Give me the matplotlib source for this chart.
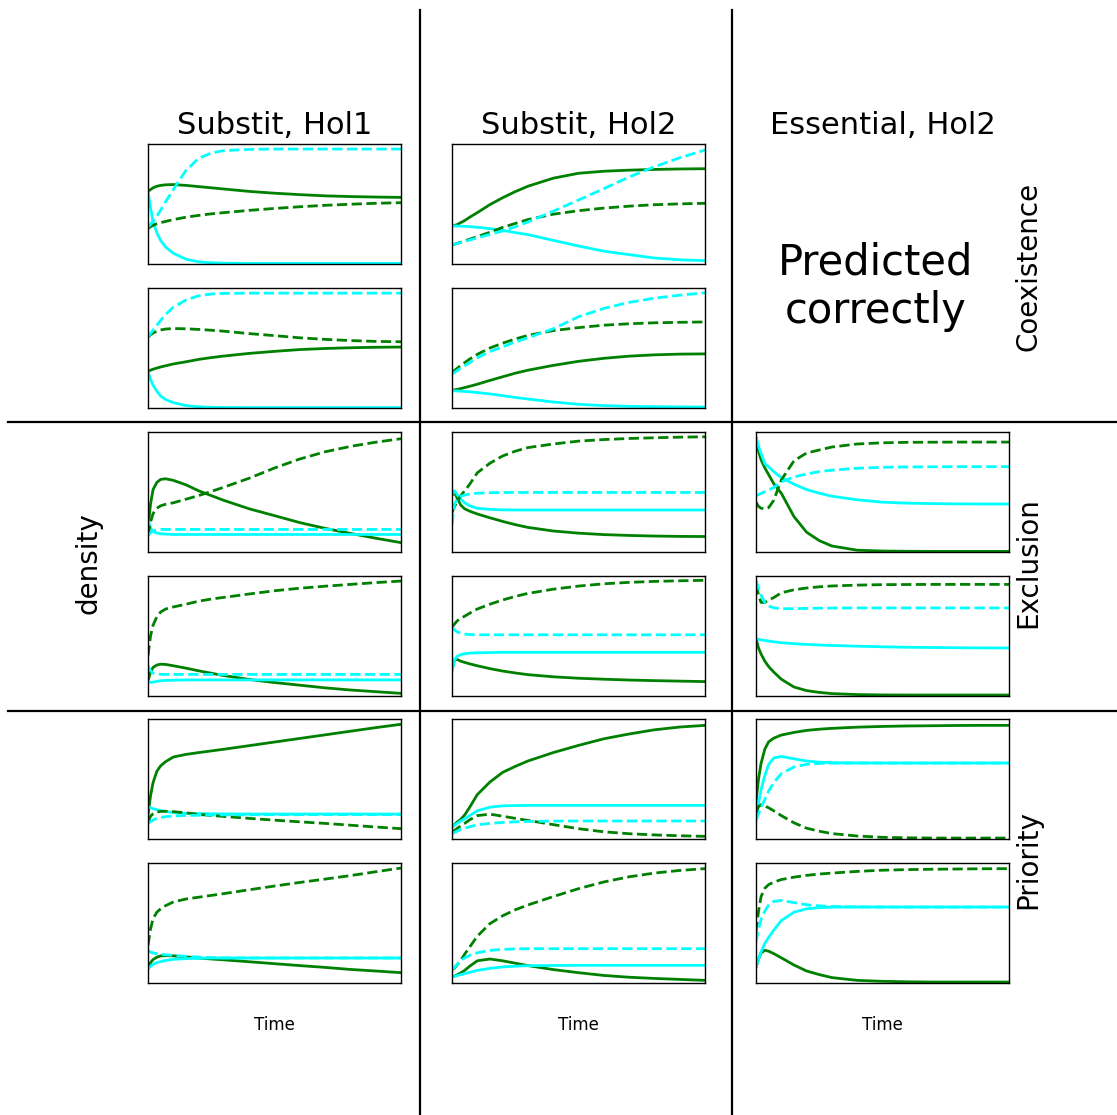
import matplotlib
matplotlib.use("Agg")
import matplotlib.pyplot as plt
from matplotlib.lines import Line2D

# shared time grid (fraction of the simulated time span)
time = [0, .01, .02, .035, .05, .07, .1, .15, .2, .25, .3, .4, .5, .6, .7, .8, .9, 1.0]

col_titles = ["Substit, Hol1", "Substit, Hol2", "Essential, Hol2"]
row_labels = ["Coexistence", "Exclusion", "Priority"]

# ---- column 1: Substit, Hol1 ----
r1c1_gs = [0.603, 0.62, 0.635, 0.648, 0.655, 0.66, 0.662, 0.655, 0.645, 0.635, 0.625, 0.605, 0.59, 0.578, 0.568, 0.562, 0.558, 0.555]
r1c1_gd = [0.297, 0.31, 0.322, 0.335, 0.345, 0.355, 0.37, 0.39, 0.405, 0.418, 0.428, 0.447, 0.463, 0.477, 0.489, 0.498, 0.506, 0.511]
r1c1_cs = [0.603, 0.47, 0.35, 0.26, 0.195, 0.14, 0.09, 0.04, 0.018, 0.01, 0.007, 0.005, 0.005, 0.005, 0.005, 0.005, 0.005, 0.005]
r1c1_cd = [0.306, 0.33, 0.36, 0.40, 0.45, 0.52, 0.62, 0.78, 0.88, 0.925, 0.945, 0.955, 0.958, 0.958, 0.958, 0.958, 0.958, 0.958]

r2c1_gs = [0.305, 0.315, 0.323, 0.333, 0.342, 0.352, 0.367, 0.385, 0.405, 0.42, 0.433, 0.455, 0.472, 0.487, 0.496, 0.502, 0.506, 0.508]
r2c1_gd = [0.59, 0.61, 0.625, 0.64, 0.65, 0.658, 0.662, 0.66, 0.655, 0.648, 0.64, 0.62, 0.603, 0.585, 0.572, 0.562, 0.555, 0.552]
r2c1_cs = [0.305, 0.24, 0.19, 0.14, 0.1, 0.07, 0.045, 0.02, 0.01, 0.006, 0.004, 0.003, 0.003, 0.003, 0.003, 0.003, 0.003, 0.003]
r2c1_cd = [0.59, 0.62, 0.65, 0.69, 0.73, 0.78, 0.84, 0.9, 0.935, 0.95, 0.955, 0.957, 0.957, 0.957, 0.957, 0.957, 0.957, 0.957]

r3c1_gs = [0.2, 0.4, 0.52, 0.58, 0.605, 0.61, 0.597, 0.56, 0.51, 0.47, 0.43, 0.36, 0.303, 0.245, 0.197, 0.155, 0.115, 0.078]
r3c1_gd = [0.135, 0.25, 0.32, 0.365, 0.385, 0.398, 0.41, 0.44, 0.47, 0.505, 0.54, 0.615, 0.7, 0.775, 0.835, 0.88, 0.915, 0.944]
r3c1_cs = [0.27, 0.2, 0.17, 0.158, 0.152, 0.149, 0.146, 0.146, 0.146, 0.146, 0.146, 0.146, 0.146, 0.146, 0.146, 0.146, 0.146, 0.146]
r3c1_cd = [0.135, 0.16, 0.176, 0.185, 0.188, 0.188, 0.188, 0.188, 0.188, 0.188, 0.188, 0.188, 0.188, 0.188, 0.188, 0.188, 0.188, 0.188]

r4c1_gs = [0.126, 0.2, 0.238, 0.258, 0.265, 0.263, 0.252, 0.232, 0.21, 0.19, 0.17, 0.138, 0.112, 0.09, 0.068, 0.05, 0.036, 0.022]
r4c1_gd = [0.336, 0.5, 0.59, 0.66, 0.7, 0.725, 0.742, 0.765, 0.79, 0.808, 0.822, 0.85, 0.877, 0.898, 0.915, 0.93, 0.945, 0.958]
r4c1_cs = [0.126, 0.113, 0.115, 0.122, 0.127, 0.13, 0.132, 0.134, 0.134, 0.134, 0.134, 0.134, 0.134, 0.134, 0.134, 0.134, 0.134, 0.134]
r4c1_cd = [0.25, 0.21, 0.19, 0.183, 0.18, 0.18, 0.18, 0.18, 0.18, 0.18, 0.18, 0.18, 0.18, 0.18, 0.18, 0.18, 0.18, 0.18]

r5c1_gs = [0.2, 0.36, 0.47, 0.565, 0.61, 0.645, 0.683, 0.705, 0.72, 0.734, 0.748, 0.778, 0.808, 0.838, 0.868, 0.898, 0.928, 0.956]
r5c1_gd = [0.14, 0.19, 0.21, 0.225, 0.23, 0.231, 0.228, 0.218, 0.205, 0.196, 0.188, 0.172, 0.157, 0.143, 0.13, 0.115, 0.1, 0.086]
r5c1_cs = [0.267, 0.26, 0.253, 0.244, 0.237, 0.229, 0.22, 0.214, 0.211, 0.21, 0.209, 0.208, 0.208, 0.208, 0.208, 0.208, 0.208, 0.208]
r5c1_cd = [0.128, 0.145, 0.158, 0.172, 0.18, 0.186, 0.192, 0.196, 0.198, 0.2, 0.201, 0.202, 0.203, 0.203, 0.203, 0.203, 0.203, 0.203]

r6c1_gs = [0.119, 0.17, 0.195, 0.215, 0.226, 0.228, 0.226, 0.218, 0.208, 0.2, 0.193, 0.177, 0.161, 0.145, 0.13, 0.113, 0.1, 0.086]
r6c1_gd = [0.314, 0.45, 0.536, 0.59, 0.618, 0.645, 0.675, 0.7, 0.715, 0.73, 0.745, 0.777, 0.808, 0.838, 0.866, 0.895, 0.927, 0.958]
r6c1_cs = [0.119, 0.14, 0.155, 0.17, 0.178, 0.188, 0.197, 0.203, 0.206, 0.208, 0.208, 0.208, 0.208, 0.208, 0.208, 0.208, 0.208, 0.208]
r6c1_cd = [0.272, 0.258, 0.25, 0.244, 0.24, 0.235, 0.23, 0.222, 0.216, 0.212, 0.21, 0.209, 0.209, 0.209, 0.209, 0.209, 0.209, 0.209]

# ---- column 2: Substit, Hol2 ----
r1c2_gs = [0.317, 0.322, 0.328, 0.345, 0.362, 0.39, 0.428, 0.495, 0.552, 0.603, 0.648, 0.715, 0.756, 0.773, 0.782, 0.788, 0.792, 0.794]
r1c2_gd = [0.158, 0.165, 0.172, 0.182, 0.193, 0.207, 0.228, 0.265, 0.305, 0.338, 0.37, 0.415, 0.444, 0.466, 0.482, 0.494, 0.501, 0.506]
r1c2_cs = [0.317, 0.317, 0.316, 0.315, 0.314, 0.312, 0.306, 0.295, 0.28, 0.262, 0.245, 0.197, 0.15, 0.107, 0.078, 0.05, 0.035, 0.028]
r1c2_cd = [0.158, 0.164, 0.17, 0.179, 0.188, 0.2, 0.218, 0.247, 0.275, 0.31, 0.35, 0.44, 0.533, 0.628, 0.725, 0.81, 0.885, 0.95]

r2c2_gs = [0.148, 0.151, 0.155, 0.162, 0.17, 0.181, 0.198, 0.23, 0.26, 0.29, 0.315, 0.355, 0.389, 0.414, 0.432, 0.443, 0.449, 0.451]
r2c2_gd = [0.297, 0.313, 0.33, 0.355, 0.378, 0.408, 0.447, 0.5, 0.54, 0.575, 0.605, 0.645, 0.67, 0.69, 0.702, 0.71, 0.714, 0.717]
r2c2_cs = [0.143, 0.143, 0.142, 0.14, 0.138, 0.135, 0.129, 0.117, 0.103, 0.088, 0.075, 0.05, 0.031, 0.02, 0.014, 0.011, 0.009, 0.008]
r2c2_cd = [0.283, 0.297, 0.311, 0.332, 0.352, 0.378, 0.418, 0.47, 0.51, 0.55, 0.585, 0.66, 0.76, 0.83, 0.88, 0.915, 0.94, 0.96]

r3c2_gs = [0.47, 0.5, 0.45, 0.39, 0.36, 0.34, 0.317, 0.285, 0.255, 0.228, 0.205, 0.175, 0.157, 0.145, 0.138, 0.133, 0.13, 0.129]
r3c2_gd = [0.325, 0.38, 0.42, 0.47, 0.51, 0.565, 0.66, 0.74, 0.8, 0.84, 0.87, 0.9, 0.924, 0.937, 0.946, 0.952, 0.957, 0.96]
r3c2_cs = [0.48, 0.51, 0.48, 0.44, 0.41, 0.385, 0.364, 0.355, 0.351, 0.35, 0.35, 0.35, 0.35, 0.35, 0.35, 0.35, 0.35, 0.35]
r3c2_cd = [0.232, 0.4, 0.44, 0.465, 0.475, 0.483, 0.49, 0.494, 0.496, 0.496, 0.496, 0.496, 0.496, 0.496, 0.496, 0.496, 0.496, 0.496]

r4c2_gs = [0.22, 0.3, 0.305, 0.29, 0.28, 0.268, 0.252, 0.228, 0.208, 0.192, 0.178, 0.16, 0.148, 0.14, 0.133, 0.128, 0.124, 0.12]
r4c2_gd = [0.574, 0.6, 0.625, 0.648, 0.665, 0.69, 0.725, 0.765, 0.8, 0.83, 0.855, 0.89, 0.916, 0.935, 0.947, 0.955, 0.96, 0.964]
r4c2_cs = [0.21, 0.3, 0.33, 0.345, 0.352, 0.357, 0.36, 0.362, 0.364, 0.364, 0.364, 0.364, 0.364, 0.364, 0.364, 0.364, 0.364, 0.364]
r4c2_cd = [0.574, 0.55, 0.535, 0.522, 0.516, 0.512, 0.51, 0.51, 0.51, 0.51, 0.51, 0.51, 0.51, 0.51, 0.51, 0.51, 0.51, 0.51]

r5c2_gs = [0.1, 0.12, 0.14, 0.165, 0.2, 0.265, 0.37, 0.475, 0.555, 0.605, 0.65, 0.72, 0.78, 0.835, 0.875, 0.91, 0.933, 0.947]
r5c2_gd = [0.058, 0.072, 0.088, 0.11, 0.13, 0.16, 0.195, 0.207, 0.19, 0.172, 0.155, 0.12, 0.086, 0.06, 0.044, 0.034, 0.027, 0.022]
r5c2_cs = [0.1, 0.115, 0.13, 0.15, 0.168, 0.195, 0.235, 0.265, 0.276, 0.279, 0.28, 0.28, 0.28, 0.28, 0.28, 0.28, 0.28, 0.28]
r5c2_cd = [0.044, 0.055, 0.066, 0.08, 0.09, 0.102, 0.118, 0.13, 0.138, 0.143, 0.146, 0.149, 0.15, 0.15, 0.15, 0.15, 0.15, 0.15]

r6c2_gs = [0.05, 0.058, 0.068, 0.085, 0.105, 0.14, 0.185, 0.2, 0.185, 0.165, 0.145, 0.112, 0.086, 0.063, 0.048, 0.038, 0.03, 0.022]
r6c2_gd = [0.106, 0.125, 0.15, 0.19, 0.24, 0.3, 0.39, 0.495, 0.56, 0.61, 0.65, 0.72, 0.786, 0.842, 0.885, 0.916, 0.938, 0.953]
r6c2_cs = [0.05, 0.056, 0.062, 0.07, 0.078, 0.09, 0.105, 0.122, 0.134, 0.14, 0.144, 0.146, 0.147, 0.147, 0.147, 0.147, 0.147, 0.147]
r6c2_cd = [0.106, 0.13, 0.155, 0.185, 0.21, 0.23, 0.252, 0.272, 0.28, 0.284, 0.286, 0.286, 0.286, 0.286, 0.286, 0.286, 0.286, 0.286]

# ---- column 3: Essential, Hol2 (rows 1-2 have no panels) ----
r3c3_gs = [0.944, 0.84, 0.77, 0.7, 0.645, 0.57, 0.49, 0.295, 0.165, 0.095, 0.05, 0.015, 0.008, 0.006, 0.005, 0.005, 0.005, 0.005]
r3c3_gd = [0.415, 0.38, 0.365, 0.36, 0.37, 0.43, 0.6, 0.76, 0.825, 0.85, 0.875, 0.9, 0.91, 0.914, 0.915, 0.916, 0.916, 0.916]
r3c3_cs = [0.96, 0.88, 0.82, 0.735, 0.71, 0.67, 0.62, 0.565, 0.52, 0.49, 0.465, 0.435, 0.415, 0.407, 0.403, 0.401, 0.4, 0.4]
r3c3_cd = [0.47, 0.478, 0.488, 0.502, 0.516, 0.537, 0.585, 0.625, 0.65, 0.67, 0.682, 0.698, 0.706, 0.709, 0.71, 0.711, 0.711, 0.711]

r4c3_gs = [0.476, 0.4, 0.35, 0.29, 0.245, 0.2, 0.14, 0.075, 0.045, 0.03, 0.02, 0.012, 0.009, 0.008, 0.008, 0.008, 0.008, 0.008]
r4c3_gd = [0.93, 0.84, 0.78, 0.78, 0.8, 0.82, 0.86, 0.885, 0.9, 0.91, 0.917, 0.924, 0.928, 0.929, 0.93, 0.93, 0.93, 0.93]
r4c3_cs = [0.476, 0.472, 0.468, 0.463, 0.458, 0.452, 0.444, 0.436, 0.43, 0.425, 0.421, 0.415, 0.41, 0.406, 0.404, 0.402, 0.401, 0.4]
r4c3_cd = [0.966, 0.9, 0.84, 0.78, 0.75, 0.735, 0.727, 0.728, 0.73, 0.732, 0.733, 0.734, 0.734, 0.734, 0.734, 0.734, 0.734, 0.734]

r5c3_gs = [0.308, 0.5, 0.63, 0.75, 0.81, 0.84, 0.866, 0.888, 0.905, 0.915, 0.922, 0.932, 0.938, 0.942, 0.944, 0.946, 0.947, 0.947]
r5c3_gd = [0.22, 0.27, 0.285, 0.275, 0.26, 0.235, 0.195, 0.135, 0.09, 0.065, 0.045, 0.025, 0.014, 0.01, 0.008, 0.008, 0.008, 0.008]
r5c3_cs = [0.169, 0.3, 0.41, 0.53, 0.62, 0.675, 0.688, 0.668, 0.65, 0.64, 0.636, 0.634, 0.633, 0.633, 0.633, 0.633, 0.633, 0.633]
r5c3_cd = [0.156, 0.21, 0.26, 0.33, 0.4, 0.47, 0.545, 0.6, 0.622, 0.63, 0.632, 0.633, 0.633, 0.633, 0.633, 0.633, 0.633, 0.633]

r6c3_gs = [0.133, 0.2, 0.25, 0.272, 0.265, 0.245, 0.21, 0.15, 0.1, 0.07, 0.045, 0.022, 0.014, 0.01, 0.008, 0.008, 0.008, 0.008]
r6c3_gd = [0.425, 0.6, 0.72, 0.79, 0.82, 0.84, 0.862, 0.882, 0.897, 0.908, 0.916, 0.93, 0.94, 0.945, 0.948, 0.95, 0.952, 0.953]
r6c3_cs = [0.133, 0.2, 0.26, 0.33, 0.38, 0.44, 0.52, 0.59, 0.618, 0.628, 0.632, 0.633, 0.633, 0.633, 0.633, 0.633, 0.633, 0.633]
r6c3_cd = [0.342, 0.45, 0.53, 0.6, 0.65, 0.68, 0.688, 0.67, 0.652, 0.643, 0.638, 0.634, 0.633, 0.633, 0.633, 0.633, 0.633, 0.633]

panels = {
    (0, 0): (r1c1_gs, r1c1_gd, r1c1_cs, r1c1_cd),
    (1, 0): (r2c1_gs, r2c1_gd, r2c1_cs, r2c1_cd),
    (2, 0): (r3c1_gs, r3c1_gd, r3c1_cs, r3c1_cd),
    (3, 0): (r4c1_gs, r4c1_gd, r4c1_cs, r4c1_cd),
    (4, 0): (r5c1_gs, r5c1_gd, r5c1_cs, r5c1_cd),
    (5, 0): (r6c1_gs, r6c1_gd, r6c1_cs, r6c1_cd),
    (0, 1): (r1c2_gs, r1c2_gd, r1c2_cs, r1c2_cd),
    (1, 1): (r2c2_gs, r2c2_gd, r2c2_cs, r2c2_cd),
    (2, 1): (r3c2_gs, r3c2_gd, r3c2_cs, r3c2_cd),
    (3, 1): (r4c2_gs, r4c2_gd, r4c2_cs, r4c2_cd),
    (4, 1): (r5c2_gs, r5c2_gd, r5c2_cs, r5c2_cd),
    (5, 1): (r6c2_gs, r6c2_gd, r6c2_cs, r6c2_cd),
    (2, 2): (r3c3_gs, r3c3_gd, r3c3_cs, r3c3_cd),
    (3, 2): (r4c3_gs, r4c3_gd, r4c3_cs, r4c3_cd),
    (4, 2): (r5c3_gs, r5c3_gd, r5c3_cs, r5c3_cd),
    (5, 2): (r6c3_gs, r6c3_gd, r6c3_cs, r6c3_cd),
}

W, H = 1117, 1115
fig = plt.figure(figsize=(W / 100, H / 100), dpi=100)

col_left = [148, 452, 756]
row_top = [144, 288, 432, 576, 719, 863]
pw, ph = 253, 120

def fx(px):
    return px / W

def fy(py):
    return 1 - py / H

for (r, c), (gs, gd, cs, cd) in panels.items():
    ax = fig.add_axes([fx(col_left[c]), fy(row_top[r] + ph), pw / W, ph / H])
    ax.plot(time, gs, color="green", lw=2.0, ls="-")
    ax.plot(time, cs, color="cyan", lw=2.0, ls="-")
    ax.plot(time, gd, color="green", lw=2.0, ls="--")
    ax.plot(time, cd, color="cyan", lw=2.0, ls="--")
    ax.set_xlim(0, 1)
    ax.set_ylim(0, 1)
    ax.set_xticks([])
    ax.set_yticks([])
    for s in ax.spines.values():
        s.set_linewidth(1.0)

# column titles and Time labels
for c, title in enumerate(col_titles):
    cx = fx(col_left[c] + pw / 2)
    fig.text(cx, fy(134), title, fontsize=22, ha="center", va="baseline")
    fig.text(cx, fy(1025), "Time", fontsize=12, ha="center", va="center")

# row labels
fig.text(fx(1028), fy(266), row_labels[0], fontsize=20, rotation=90, ha="center", va="center")
fig.text(fx(1028), fy(563), row_labels[1], fontsize=20, rotation=90, ha="center", va="center")
fig.text(fx(1028), fy(860), row_labels[2], fontsize=20, rotation=90, ha="center", va="center")

fig.text(fx(88), fy(563), "density", fontsize=20, rotation=90, ha="center", va="center")

fig.text(fx(876), fy(287), "Predicted\ncorrectly", fontsize=30, ha="center", va="center",
         multialignment="center")

# divider lines
for xv in [420, 732]:
    fig.add_artist(Line2D([fx(xv), fx(xv)], [fy(10), fy(H)], color="black", lw=1.6))
for yv in [422, 711]:
    fig.add_artist(Line2D([fx(8), fx(W)], [fy(yv), fy(yv)], color="black", lw=1.6))

fig.savefig("out.png", dpi=100)
